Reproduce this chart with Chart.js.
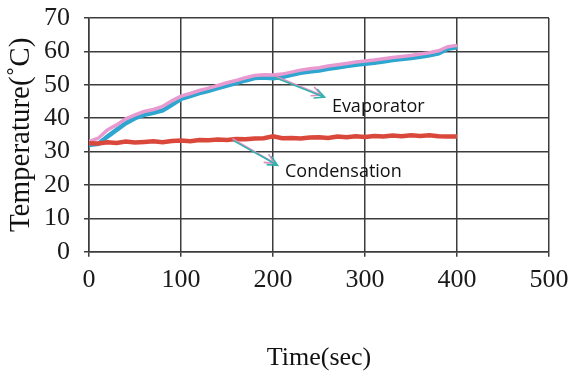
<!DOCTYPE html>
<html>
<head>
<meta charset="utf-8">
<script src="https://cdn.jsdelivr.net/npm/chart.js@4"></script>
<style>
  body { margin: 0; background: #fff; }
  #wrap { width: 568px; height: 371px; position: relative; }
</style>
</head>
<body>
<div id="wrap"><canvas id="graph1"></canvas></div>
<script>
// time axis (sec), every 10 s
const times = [0, 10, 20, 30, 40, 50, 60, 70, 80, 90, 100, 110, 120, 130, 140, 150, 160, 170, 180, 190, 200,
    210, 220, 230, 240, 250, 260, 270, 280, 290, 300, 310, 320, 330, 340, 350, 360, 370, 380, 390, 400];

// evaporator (two traces, pink + blue)
const evapPink = [33.0, 34.0, 36.5, 38.0, 39.8, 41.0, 42.0, 42.6, 43.5, 45.2, 46.6, 47.4, 48.3, 49.0, 49.8, 50.6,
    51.3, 52.1, 52.8, 53.0, 52.9, 53.2, 53.8, 54.4, 54.8, 55.1, 55.6, 56.0, 56.4, 56.8, 57.1, 57.4, 57.8, 58.2,
    58.5, 58.8, 59.2, 59.6, 60.2, 61.4, 61.8];
const evapBlue = [32.0, 32.3, 34.5, 36.5, 38.5, 40.0, 41.0, 41.6, 42.3, 44.0, 45.8, 46.6, 47.5, 48.2, 49.0, 49.8,
    50.5, 51.3, 52.0, 52.2, 52.0, 52.3, 53.0, 53.6, 54.0, 54.3, 54.8, 55.2, 55.6, 56.0, 56.3, 56.6, 57.0, 57.4,
    57.7, 58.0, 58.4, 58.8, 59.4, 60.8, 61.2];

// condensation
const condRed = [32.5, 32.4, 32.8, 32.6, 33.0, 32.7, 32.9, 33.1, 32.8, 33.2, 33.3, 33.1, 33.5, 33.4, 33.6, 33.5,
    33.8, 33.7, 33.9, 34.0, 34.6, 34.0, 34.1, 33.9, 34.2, 34.3, 34.1, 34.5, 34.3, 34.6, 34.4, 34.7, 34.5, 34.8,
    34.6, 34.9, 34.7, 34.9, 34.6, 34.5, 34.5];

// annotations: [label, text x, text y, arrow tail x, tail y, arrow head x, head y] in data units
const labels = [
    ['Evaporator', 264, 43.5, 202, 52.2, 256, 46.3],
    ['Condensation', 213, 23.9, 157, 33.3, 205, 25.9]
];

const gridColor = '#3c3c3c';
const serif = 'Liberation Serif, Times New Roman, serif';

function pts(ys) {
    return times.map((t, i) => ({ x: t, y: ys[i] }));
}

function drawArrow(ctx, x1, y1, x2, y2, color) {
    const a = Math.atan2(y2 - y1, x2 - x1);
    const h = 11;
    ctx.strokeStyle = color;
    ctx.lineWidth = 1.6;
    ctx.beginPath();
    ctx.moveTo(x1, y1);
    ctx.lineTo(x2, y2);
    ctx.moveTo(x2 - h * Math.cos(a - 0.45), y2 - h * Math.sin(a - 0.45));
    ctx.lineTo(x2, y2);
    ctx.lineTo(x2 - h * Math.cos(a + 0.45), y2 - h * Math.sin(a + 0.45));
    ctx.stroke();
}

const labelPlugin = {
    id: 'labelPlugin',
    afterDatasetsDraw(chart) {
        const ctx = chart.ctx;
        const sx = chart.scales.x, sy = chart.scales.y;
        ctx.save();
        labels.forEach(l => {
            const tx = sx.getPixelForValue(l[1]), ty = sy.getPixelForValue(l[2]);
            const ax = sx.getPixelForValue(l[3]), ay = sy.getPixelForValue(l[4]);
            const hx = sx.getPixelForValue(l[5]), hy = sy.getPixelForValue(l[6]);
            drawArrow(ctx, ax - 1, ay - 2, hx - 3, hy - 2, '#e08cc4');
            drawArrow(ctx, ax, ay, hx, hy, '#33b3ad');
            ctx.fillStyle = '#111';
            ctx.font = '18px "Open Sans", sans-serif';
            ctx.textBaseline = 'middle';
            ctx.textAlign = 'left';
            ctx.fillText(l[0], tx, ty);
        });
        ctx.restore();
    }
};

const ctx = document.getElementById('graph1').getContext('2d');
new Chart(ctx, {
    type: 'line',
    data: {
        datasets: [
            { label: 'Condensation', data: pts(condRed), borderColor: '#d9483b', borderWidth: 4.5 },
            { label: 'Evaporator 1', data: pts(evapPink), borderColor: '#e89ad0', borderWidth: 3.5 },
            { label: 'Evaporator 2', data: pts(evapBlue), borderColor: '#2fa6cf', borderWidth: 4.5 }
        ]
    },
    options: {
        responsive: true,
        maintainAspectRatio: false,
        animation: false,
        elements: { point: { radius: 0 }, line: { tension: 0 } },
        layout: { padding: { top: 18, right: 19, bottom: 0, left: 0 } },
        plugins: {
            legend: { display: false },
            tooltip: { enabled: false }
        },
        scales: {
            x: {
                type: 'linear',
                min: 0,
                max: 500,
                ticks: { stepSize: 100, padding: 8, color: '#1a1a1a', font: { family: serif, size: 26 }, maxRotation: 0 },
                grid: { color: gridColor, lineWidth: 1.5, tickLength: 5 },
                border: { color: gridColor, width: 1.5 },
                title: {
                    display: true,
                    text: 'Time(sec)',
                    color: '#111',
                    font: { family: serif, size: 26, lineHeight: 1 },
                    padding: { top: 41, bottom: 0 }
                },
                afterFit: scale => {
                    scale.paddingLeft = 0;
                    scale.paddingRight = 19;
                }
            },
            y: {
                min: 0,
                max: 70,
                ticks: { stepSize: 10, autoSkip: false, padding: 14, color: '#1a1a1a', font: { family: serif, size: 26 } },
                grid: { color: gridColor, lineWidth: 1.5, tickLength: 5 },
                border: { color: gridColor, width: 1.5 },
                title: {
                    display: true,
                    text: 'Temperature(˚C)',
                    color: '#111',
                    font: { family: serif, size: 29, lineHeight: 1 },
                    padding: { top: 7, bottom: 0 }
                },
                afterFit: scale => {
                    scale.width = 89;
                    scale.paddingTop = 15;
                    scale.paddingBottom = 15;
                }
            }
        }
    },
    plugins: [labelPlugin]
});
</script>
</body>
</html>
